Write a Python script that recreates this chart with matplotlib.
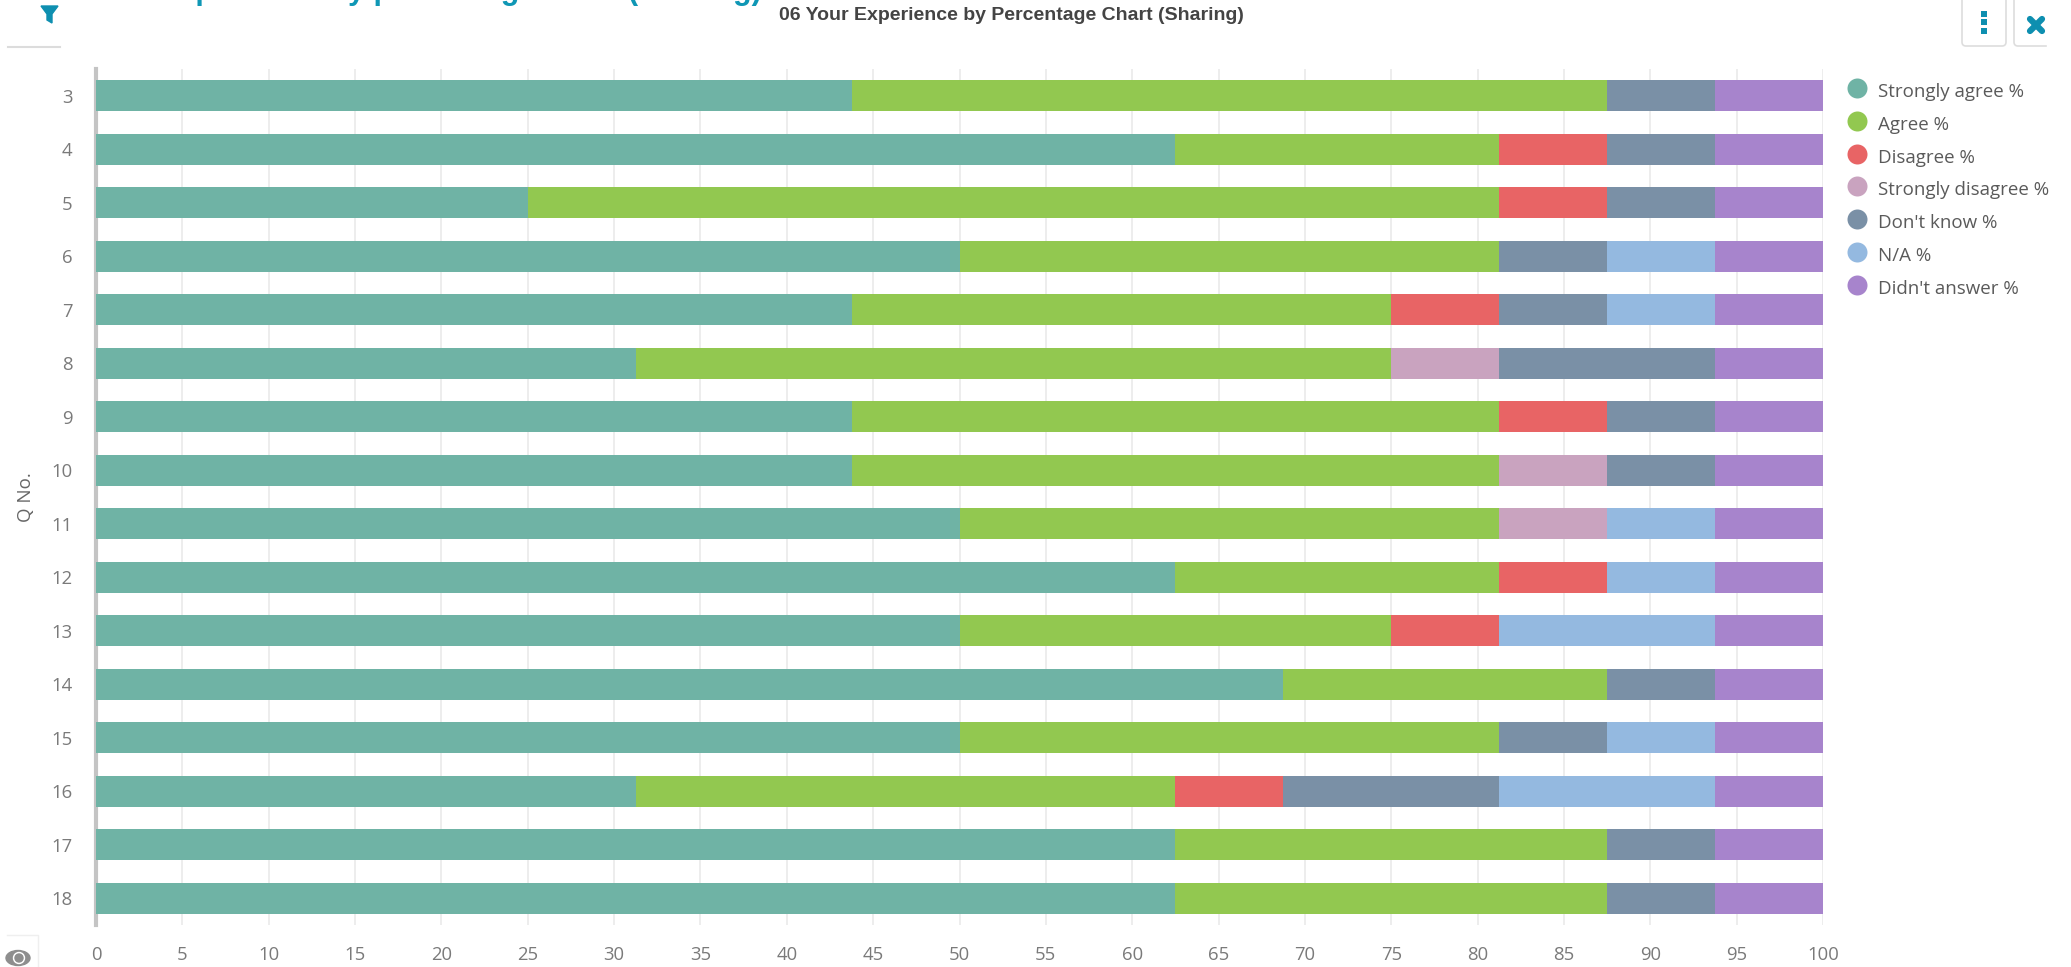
"""Stacked percentage chart: 06 Your Experience (Sharing)."""

import matplotlib

matplotlib.use("Agg")
import matplotlib.pyplot as plt
import numpy as np
from matplotlib.lines import Line2D
from matplotlib.patches import FancyBboxPatch, Polygon, Ellipse

W, H = 2071, 967

QUESTIONS = ["3", "4", "5", "6", "7", "8", "9", "10", "11", "12", "13", "14", "15", "16", "17", "18"]
STRONGLY_AGREE = [43.75, 62.5, 25, 50, 43.75, 31.25, 43.75, 43.75, 50, 62.5, 50, 68.75, 50, 31.25, 62.5, 62.5]
AGREE = [43.75, 18.75, 56.25, 31.25, 31.25, 43.75, 37.5, 37.5, 31.25, 18.75, 25, 18.75, 31.25, 31.25, 25, 25]
DISAGREE = [0, 6.25, 6.25, 0, 6.25, 0, 6.25, 0, 0, 6.25, 6.25, 0, 0, 6.25, 0, 0]
STRONGLY_DISAGREE = [0, 0, 0, 0, 0, 6.25, 0, 6.25, 6.25, 0, 0, 0, 0, 0, 0, 0]
DONT_KNOW = [6.25, 6.25, 6.25, 6.25, 6.25, 12.5, 6.25, 6.25, 0, 0, 0, 6.25, 6.25, 12.5, 6.25, 6.25]
NOT_APPLICABLE = [0, 0, 0, 6.25, 6.25, 0, 0, 0, 6.25, 6.25, 12.5, 0, 6.25, 12.5, 0, 0]
NO_ANSWER = [6.25] * 16

SERIES = [
    ("Strongly agree %", STRONGLY_AGREE, "#6fb3a5"),
    ("Agree %", AGREE, "#92c850"),
    ("Disagree %", DISAGREE, "#e86465"),
    ("Strongly disagree %", STRONGLY_DISAGREE, "#c9a3bf"),
    ("Don't know %", DONT_KNOW, "#7a90a6"),
    ("N/A %", NOT_APPLICABLE, "#94b9e0"),
    ("Didn't answer %", NO_ANSWER, "#a784cc"),
]
X_TICKS = list(range(0, 101, 5))

TEAL = "#0e8fb0"
GREY_TEXT = "#7a7a7a"
AX_LEFT, AX_RIGHT, AX_TOP, AX_BOTTOM = 96, 1823, 69, 925

plt.rcParams["font.family"] = ["Open Sans", "DejaVu Sans"]

fig = plt.figure(figsize=(W / 100, H / 100), dpi=100, facecolor="white")
ax = fig.add_axes([AX_LEFT / W, 1 - AX_BOTTOM / H, (AX_RIGHT - AX_LEFT) / W, (AX_BOTTOM - AX_TOP) / H])

# bars
y = np.arange(len(QUESTIONS))
left = np.zeros(len(QUESTIONS))
for label, values, color in SERIES:
    ax.barh(y, values, left=left, height=0.585, color=color, linewidth=0, zorder=3, label=label)
    left += np.array(values)

ax.set_xlim(0, 100)
ax.set_ylim(15.5, -0.5)
ax.set_xticks(X_TICKS)
ax.set_yticks(y, QUESTIONS)
ax.grid(axis="x", color="#e8e8e8", linewidth=1.1, zorder=0)
ax.set_axisbelow(True)
ax.tick_params(axis="both", length=0, labelsize=13.3, labelcolor=GREY_TEXT)
ax.tick_params(axis="x", pad=15)
ax.tick_params(axis="y", pad=17)
for name in ("top", "right", "bottom"):
    ax.spines[name].set_visible(False)
ax.spines["left"].set_color("#c4c4c4")
ax.spines["left"].set_linewidth(3)
ax.spines["left"].set_zorder(2)
ax.set_ylabel("Q No.", fontsize=13.5, color="#666666")
ax.yaxis.set_label_coords((35 - AX_LEFT) / (AX_RIGHT - AX_LEFT), (AX_BOTTOM - 497) / (AX_BOTTOM - AX_TOP))

# legend with round markers
handles = [
    Line2D([], [], linestyle="none", marker="o", markersize=14.4, markeredgewidth=0, color=c, label=n)
    for n, _, c in SERIES
]
legend = fig.legend(
    handles=handles,
    loc="upper left",
    bbox_to_anchor=(1843 / W, 1 - 80.5 / H),
    frameon=False,
    fontsize=13.5,
    labelcolor="#5a5a5a",
    labelspacing=0.79,
    handletextpad=0.37,
    handlelength=1.5,
    borderpad=0,
    borderaxespad=0,
)
# labels sit a little below their markers
for text in legend.get_texts():
    text.set_y(-2.5)

# page furniture, laid out in pixels
page = fig.add_axes([0, 0, 1, 1], zorder=10)
page.set_xlim(0, W)
page.set_ylim(H, 0)
page.axis("off")
page.patch.set_alpha(0)

page.text(
    1011, 15, "06 Your Experience by Percentage Chart (Sharing)",
    ha="center", va="center", fontsize=14, fontweight="bold", color="#444444", family="Liberation Sans",
)
# page heading sits mostly above the top edge, only its descenders show
page.text(
    158, -1, "Experience by percentage chart (Sharing)",
    ha="left", va="baseline", fontsize=22, fontweight="bold", color="#0f97b5", family="Liberation Sans",
)

# filter button
page.add_patch(Polygon([(41, 6), (58, 6), (52, 14), (52, 23), (47, 20), (47, 14)], color=TEAL))
page.plot([8, 60], [47, 47], color="#dcdcdc", linewidth=1.5)

# menu and close buttons
for x0, x1 in ((1962, 2006), (2014, 2060)):
    page.add_patch(
        FancyBboxPatch(
            (x0, -10), x1 - x0, 56, boxstyle="round,pad=0,rounding_size=4",
            facecolor="white", edgecolor="#dddddd", linewidth=1.2,
        )
    )
page.add_patch(plt.Rectangle((2047, 0), 24, 60, color="white", zorder=3))
for dot_y in (14, 22, 31):
    page.plot([1984], [dot_y], marker="s", markersize=4.5, color=TEAL, markeredgewidth=0)
page.plot([2030, 2042], [19, 31], color=TEAL, linewidth=4.5, solid_capstyle="round")
page.plot([2030, 2042], [31, 19], color=TEAL, linewidth=4.5, solid_capstyle="round")

# eye toggle, bottom left
page.plot([7, 38, 38], [935, 935, 967], color="#efefef", linewidth=1)
page.add_patch(Ellipse((18, 958), 24, 15, color="#8e8e8e"))
page.add_patch(Ellipse((19, 958), 11, 11, color="#ffffff"))
page.add_patch(Ellipse((19, 958), 8, 8, color="#8e8e8e"))

fig.savefig("out.png", dpi=100)
